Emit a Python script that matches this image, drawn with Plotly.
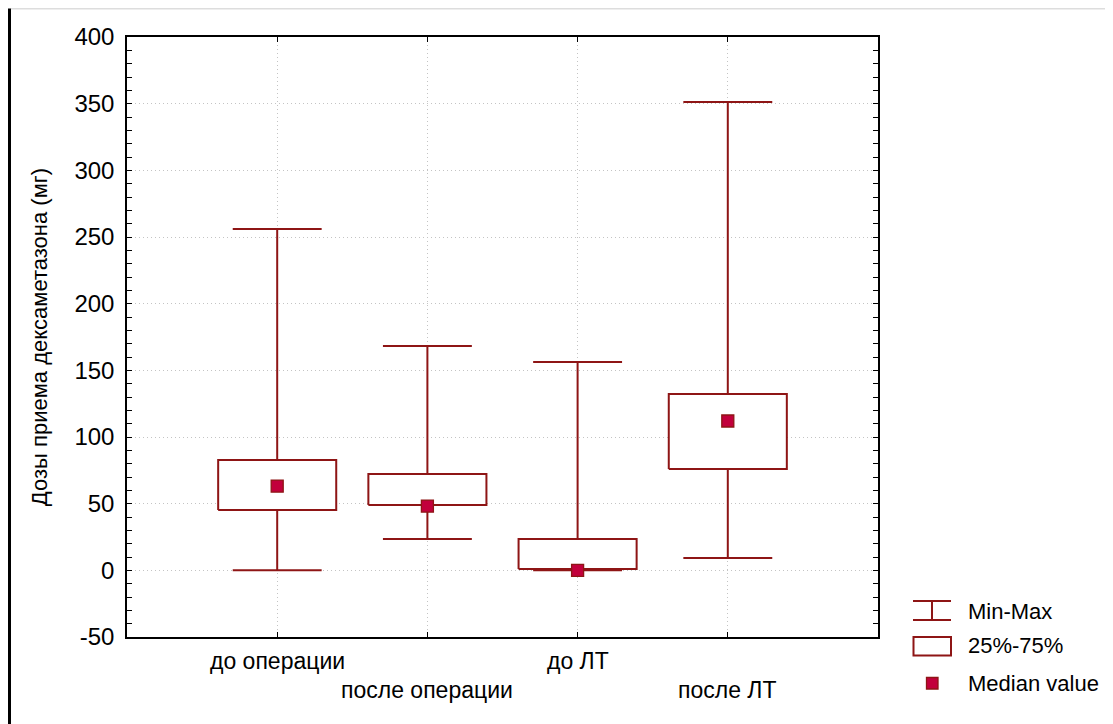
import plotly.graph_objects as go

categories = ["до операции", "после операции", "до ЛТ", "после ЛТ"]
minimum = [0, 23.5, 0, 9.2]
q1 = [45.2, 49.0, 1.0, 76.0]
median = [63.2, 48.2, 0, 112.0]
q3 = [82.7, 72.2, 23.5, 132.2]
maximum = [256.0, 168.2, 156.2, 351.2]

y_ticks = [-50, 0, 50, 100, 150, 200, 250, 300, 350, 400]
y_tick_text = ["-50", "0", "50", "100", "150", "200", "250", "300", "350", "400"]
legend_labels = ["Min-Max", "25%-75%", "Median value"]

LINE = "#8E1515"
MED_FILL = "#C2003C"
FONT = "Liberation Sans, Arial, sans-serif"

pos = list(range(1, len(categories) + 1))
BOX_HALF = 0.393
CAP_HALF = 0.296

fig = go.Figure()

# whiskers
wx, wy = [], []
for p, lo, a, b, hi in zip(pos, minimum, q1, q3, maximum):
    wx += [p, p, None, p, p, None, p - CAP_HALF, p + CAP_HALF, None, p - CAP_HALF, p + CAP_HALF, None]
    wy += [lo, a, None, b, hi, None, lo, lo, None, hi, hi, None]
fig.add_trace(go.Scatter(x=wx, y=wy, mode="lines", line=dict(color=LINE, width=2),
                         hoverinfo="skip", showlegend=False))

# boxes
for p, a, b in zip(pos, q1, q3):
    fig.add_trace(go.Scatter(
        x=[p - BOX_HALF, p + BOX_HALF, p + BOX_HALF, p - BOX_HALF, p - BOX_HALF],
        y=[a, a, b, b, a], mode="lines", fill="toself", fillcolor="white",
        line=dict(color=LINE, width=2), hoverinfo="skip", showlegend=False))

# medians
fig.add_trace(go.Scatter(x=pos, y=median, mode="markers",
                         marker=dict(symbol="square", size=12, color=MED_FILL,
                                     line=dict(color=LINE, width=1.3)),
                         showlegend=False))

OFF = 8  # page body margin
W, H = 1113 - OFF, 724 - OFF
L, R, T, B = 127 - OFF, 878 - OFF, 37 - OFF, 637 - OFF

def px(x):
    return (x - OFF - L) / (R - L)

def py(y):
    return (B - (y - OFF)) / (B - T)

shapes = []
# legend symbols
shapes.append(dict(type="line", xref="paper", yref="paper", x0=px(913), x1=px(951), y0=py(601), y1=py(601), line=dict(color=LINE, width=2)))
shapes.append(dict(type="line", xref="paper", yref="paper", x0=px(913), x1=px(951), y0=py(620), y1=py(620), line=dict(color=LINE, width=2)))
shapes.append(dict(type="line", xref="paper", yref="paper", x0=px(932), x1=px(932), y0=py(601), y1=py(620), line=dict(color=LINE, width=2)))
shapes.append(dict(type="rect", xref="paper", yref="paper", x0=px(913.5), x1=px(951), y0=py(637), y1=py(655.5), line=dict(color=LINE, width=2), fillcolor="white"))
shapes.append(dict(type="rect", xref="paper", yref="paper", x0=px(926.5), x1=px(938), y0=py(677.5), y1=py(689), line=dict(color=LINE, width=1.3), fillcolor=MED_FILL))
# page frame
shapes.append(dict(type="line", xref="paper", yref="paper", x0=px(9.5), x1=px(9.5), y0=py(8.5), y1=py(724), line=dict(color="black", width=3)))
shapes.append(dict(type="line", xref="paper", yref="paper", x0=px(11), x1=px(1113), y0=py(8.7), y1=py(8.7), line=dict(color="#dddddd", width=1.5)))

annotations = []
for i, (p, c) in enumerate(zip(pos, categories)):
    annotations.append(dict(x=p, y=0, xref="x", yref="paper", text=c, showarrow=False,
                            yanchor="middle", xanchor="center",
                            yshift=-(24 if i % 2 == 0 else 53),
                            font=dict(family=FONT, size=23, color="black")))
for lab, yy in zip(legend_labels, [611, 646, 683]):
    annotations.append(dict(x=px(966), y=py(yy), xref="paper", yref="paper", text=lab,
                            showarrow=False, xanchor="left", yanchor="middle",
                            font=dict(family=FONT, size=22, color="black")))

fig.update_layout(
    width=W, height=H,
    margin=dict(l=L, r=W - R, t=T, b=H - B),
    paper_bgcolor="white", plot_bgcolor="white",
    font=dict(family=FONT, size=23, color="black"),
    shapes=shapes, annotations=annotations,
    showlegend=False,
)
GRID = dict(showgrid=True, gridcolor="#c4c4c4", griddash="1px,3px", gridwidth=1.2)
fig.update_xaxes(range=[0, len(categories) + 1], tickvals=pos, showticklabels=False,
                 ticks="inside", ticklen=5, tickcolor="black",
                 showline=True, linecolor="black", linewidth=1.5, mirror="ticks",
                 zeroline=False, **GRID)
fig.update_yaxes(range=[-50, 400], tickvals=y_ticks, ticktext=y_tick_text,
                 ticks="inside", ticklen=5,
                 tickcolor="black", tickfont=dict(size=24),
                 minor=dict(dtick=10, ticks="inside", ticklen=5, tickcolor="black", showgrid=False),
                 showline=True, linecolor="black", linewidth=1.5, mirror="ticks",
                 zeroline=False, ticklabelstandoff=6,
                 title=dict(text="Дозы приема дексаметазона (мг)", font=dict(size=22), standoff=21),
                 **GRID)

fig.write_html("out.html")
